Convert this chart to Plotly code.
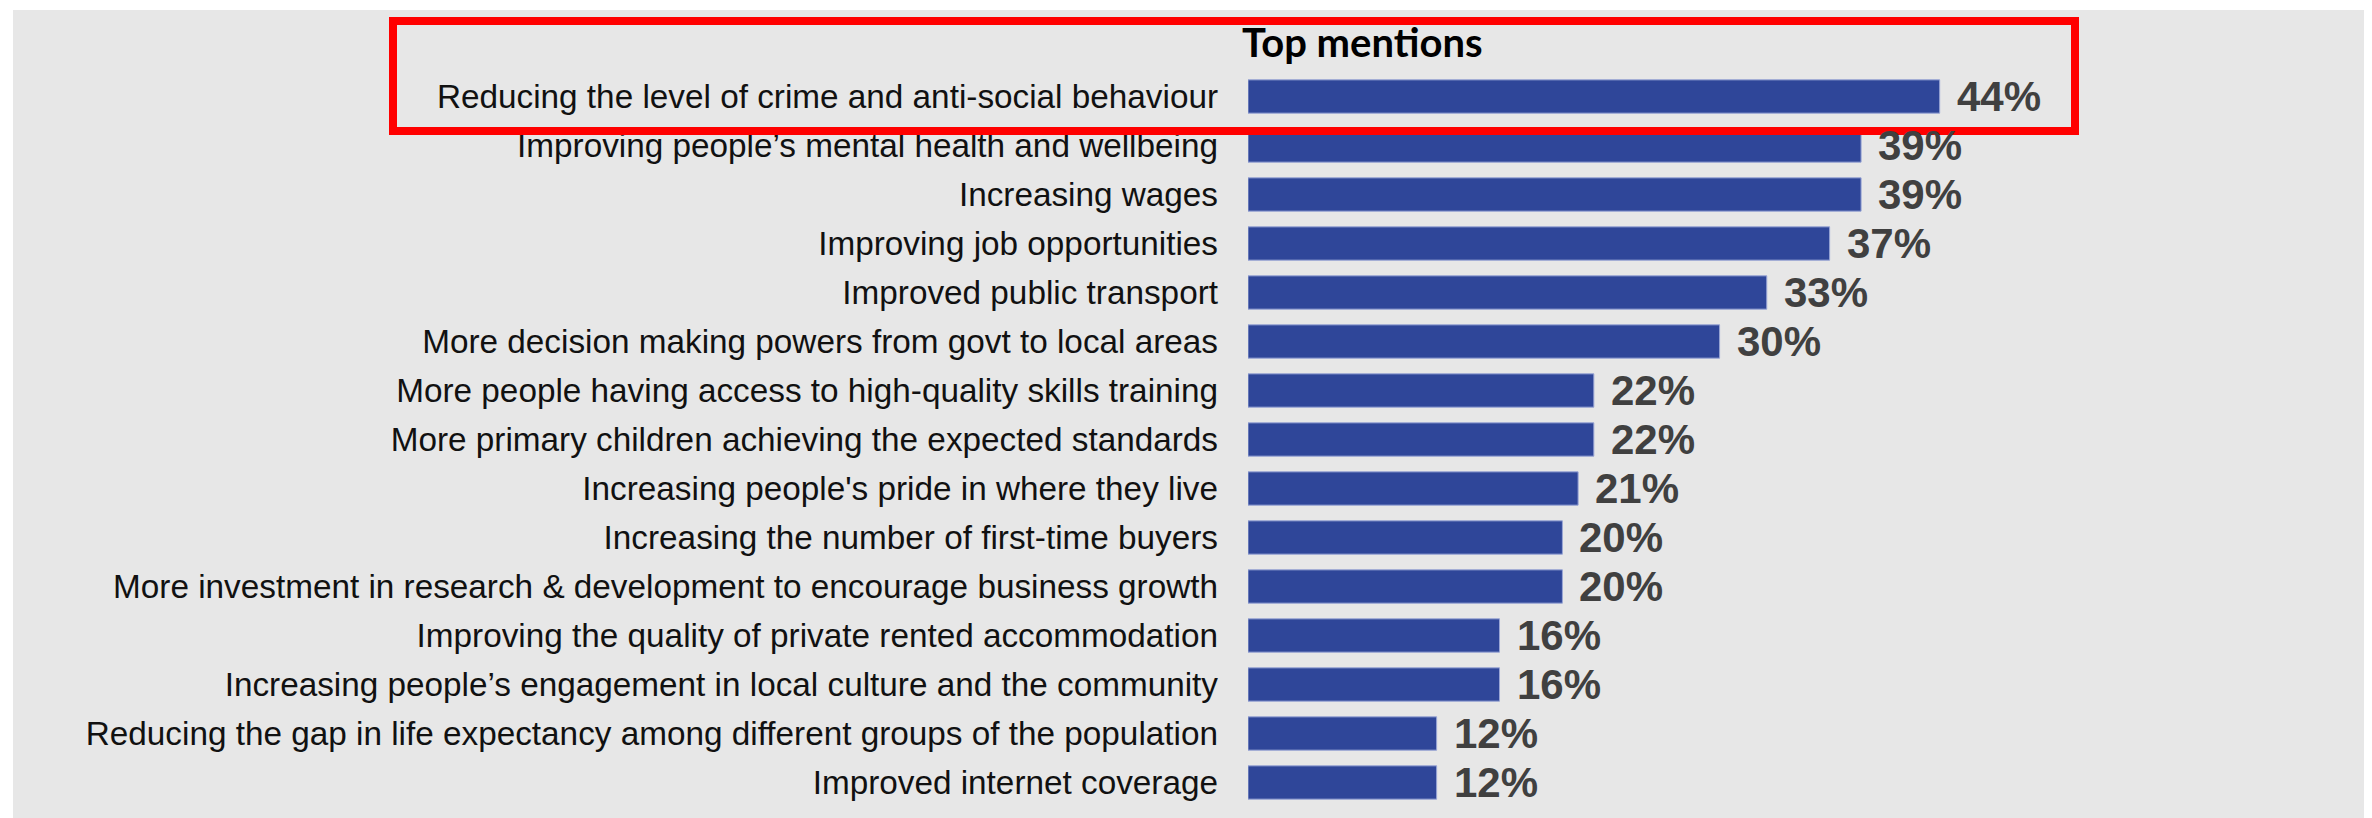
import plotly.graph_objects as go

categories = [
    "Reducing the level of crime and anti-social behaviour",
    "Improving people\u2019s mental health and wellbeing",
    "Increasing wages",
    "Improving job opportunities",
    "Improved public transport",
    "More decision making powers from govt to local areas",
    "More people having access to high-quality skills training",
    "More primary children achieving the expected standards",
    "Increasing people's pride in where they live",
    "Increasing the number of first-time buyers",
    "More investment in research & development to encourage business growth",
    "Improving the quality of private rented accommodation",
    "Increasing people\u2019s engagement in local culture and the community",
    "Reducing the gap in life expectancy among different groups of the population",
    "Improved internet coverage",
]
values = [44, 39, 39, 37, 33, 30, 22, 22, 21, 20, 20, 16, 16, 12, 12]
value_labels = [f"{v}%" for v in values]
title_text = "Top mentions"

OFF = 8  # page body margin
W, H = 2372 - OFF, 818 - OFF
# plot area in page pixels: x from 1248, y from 71 to 808
L = 1248 - OFF
T = 71 - OFF
B = H - (808 - OFF)
R = 0
pw, ph = W - L - R, H - T - B

def px_x(p):
    return (p - OFF - L) / pw

def px_y(p):
    return (H - B - (p - OFF)) / ph

fig = go.Figure()
fig.add_trace(go.Bar(
    x=values, y=categories, orientation="h",
    marker=dict(color="#2F4699", line=dict(color="#9AA6D6", width=1)),
    hoverinfo="skip",
))

annotations = []
for c, v, t in zip(categories, values, value_labels):
    annotations.append(dict(
        x=v, y=c, xref="x", yref="y", text=t, showarrow=False,
        xanchor="left", yanchor="middle", xshift=15,
        font=dict(family="Liberation Sans", size=42, color="#404040", weight="bold"),
    ))
annotations.append(dict(
    x=px_x(1240), y=px_y(42), xref="paper", yref="paper", text="<b>" + title_text + "</b>",
    showarrow=False, xanchor="left", yanchor="middle",
    font=dict(family="Lato", size=40, color="#000000"),
))

shapes = [
    dict(type="rect", xref="paper", yref="paper", layer="below",
         x0=px_x(13), x1=px_x(2400), y0=px_y(840), y1=px_y(10),
         fillcolor="#E7E7E7", line=dict(width=0)),
    dict(type="rect", xref="paper", yref="paper", layer="above",
         x0=px_x(393), x1=px_x(2075), y0=px_y(131), y1=px_y(21),
         fillcolor="rgba(0,0,0,0)", line=dict(color="#FF0000", width=8)),
]

fig.update_layout(
    width=W, height=H,
    margin=dict(l=L, r=R, t=T, b=B, pad=0),
    paper_bgcolor="#FFFFFF", plot_bgcolor="rgba(0,0,0,0)",
    showlegend=False, bargap=0.32,
    annotations=annotations, shapes=shapes,
    xaxis=dict(range=[0, pw / 15.72], visible=False, fixedrange=True),
    yaxis=dict(autorange="reversed", showgrid=False, zeroline=False, showline=False,
               ticks="", ticklabelstandoff=29,
               tickfont=dict(family="Liberation Sans", size=33.3, color="#111111"),
               fixedrange=True),
)

fig.write_html("out.html")
